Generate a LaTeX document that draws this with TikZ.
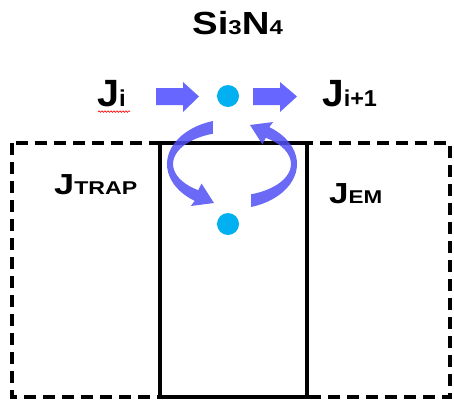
\documentclass[tikz,border=0pt]{standalone}
\usepackage{fontspec}
\setmainfont{Liberation Sans}
\usetikzlibrary{decorations.pathmorphing}
\definecolor{arrowblue}{RGB}{95,95,255}
\definecolor{loopblue}{RGB}{80,80,245}
\definecolor{dotcyan}{RGB}{0,176,240}
\tikzset{
  flowarrow/.style={fill=arrowblue, fill opacity=0.95},
  looparrow/.style={fill=loopblue, fill opacity=0.85},
  dot/.style={circle, fill=dotcyan, minimum size=22pt, inner sep=0pt},
  lbl/.style={inner sep=0pt, anchor=base west, font=\bfseries},
  cell/.style={line width=3.5pt},
  cellout/.style={line width=3.5pt, dash pattern=on 12pt off 7pt},
}
\newcommand{\fs}[1]{\fontsize{#1}{#1}\selectfont}
\begin{document}
\begin{tikzpicture}[x=1pt,y=-1pt]
\useasboundingbox (0,0) rectangle (454,402);
% boxes
\draw[cellout] (12,143) rectangle (450,397);
\draw[cell] (160,143) rectangle (307,397);
% labels
\node[lbl, anchor=base] (si) at (237.5,34) {\scalebox{1.2}[1]{\fs{32}Si\fs{20}3\fs{32}N\fs{20}4}};
\node[lbl] (ji) at (97,106) {\scalebox{1.04}[1]{\fs{38}J\fs{23}i}};
\node[lbl] (jip) at (322,106) {\scalebox{1.02}[1]{\fs{38}J\fs{23}i+1}};
\node[lbl] (jtrap) at (54,194) {\scalebox{1.25}[1]{\fs{29}J\fs{18.5}TRAP}};
\node[lbl] (jem) at (329,203) {\scalebox{1.21}[1]{\fs{29}J\fs{18.5}EM}};
\draw[red, line width=0.6pt, decorate, decoration={snake, segment length=3pt, amplitude=0.8pt}] (ji.south west) ++(1,5) -- ++(32,0);
% dots
\node[dot] (d1) at (228,96) {};
\node[dot] (d2) at (228,224) {};
% straight arrows
\fill[flowarrow] (156,88) -- (183,88) -- (183,82) -- (199,96.5) -- (183,112) -- (183,105) -- (156,105) -- cycle;
\fill[flowarrow] (253,88) -- (280,88) -- (280,82) -- (297,96.5) -- (280,112) -- (280,105) -- (253,105) -- cycle;
% curved arrows
\def\looppath{(213,121) arc[start angle=-107, end angle=-235, x radius=65, y radius=45] -- (190.8,206) -- (214,203) -- (201.5,183.5) -- (198.2,190.2) arc[start angle=-235, end angle=-109, x radius=59, y radius=32] -- cycle}
\fill[looparrow] \looppath;
\fill[looparrow, rotate around={180:(232,164)}] \looppath;
\end{tikzpicture}
\end{document}
